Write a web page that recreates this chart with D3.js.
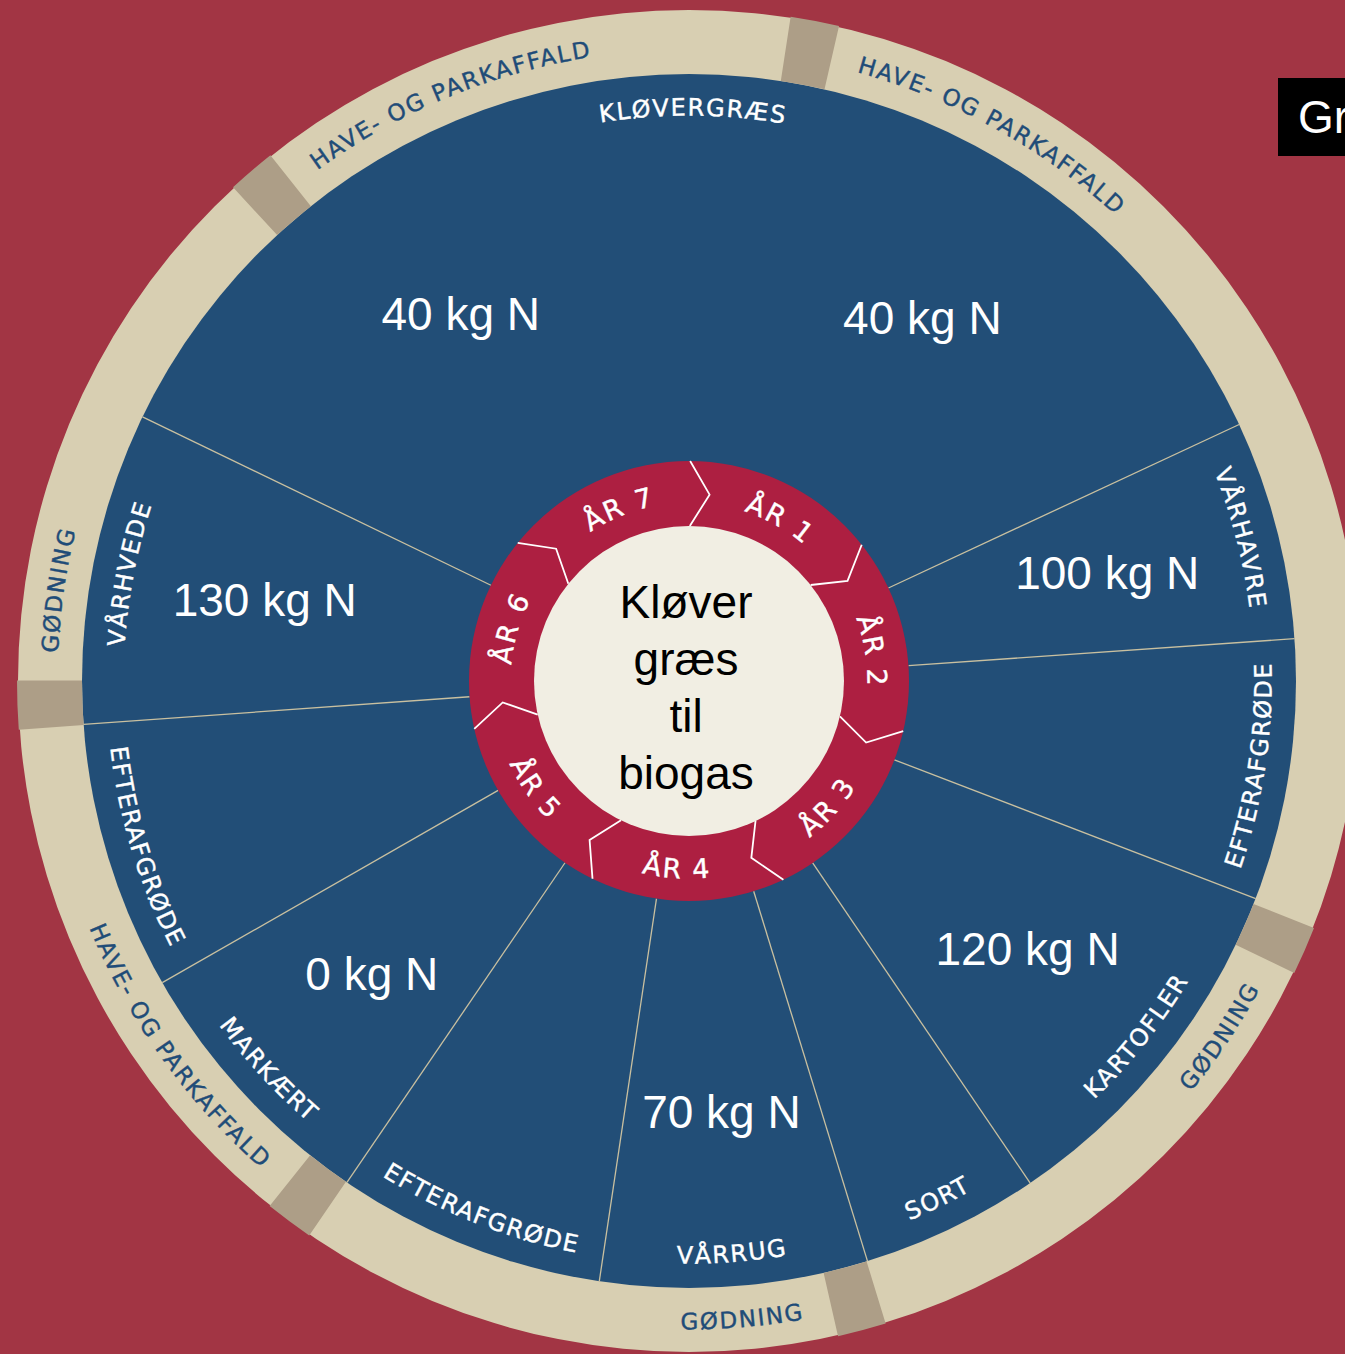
<!DOCTYPE html>
<html>
<head>
<meta charset="utf-8">
<script src="https://cdn.jsdelivr.net/npm/d3@7"></script>
<style>
  html, body { margin: 0; padding: 0; background: #a23544; overflow: hidden; }
  #tag {
    position: absolute; left: 1278px; top: 78px; width: 200px; height: 78px;
    background: #000; color: #fff; font: 46px "Liberation Sans", Arial, sans-serif;
    line-height: 78px; padding-left: 20px; white-space: nowrap;
  }
</style>
</head>
<body>
<svg id="chart"></svg>
<div id="tag">Gr</div>
<script>
const w = 1345;
const h = 1354;
const cx = 689;
const cy = 681;

// wheel data
const years = ['ÅR 1', 'ÅR 2', 'ÅR 3', 'ÅR 4', 'ÅR 5', 'ÅR 6', 'ÅR 7'];
const crops = ['KLØVERGRÆS', 'VÅRHAVRE', 'EFTERAFGRØDE', 'KARTOFLER', 'SORT', 'VÅRRUG',
	'EFTERAFGRØDE', 'MARKÆRT', 'EFTERAFGRØDE', 'VÅRHVEDE'];
const cropShare = [129.2, 21, 25, 34.8, 17.1, 25.6, 25.8, 25.9, 25.7, 29.9]; // degrees of the wheel
const nCrop = [0, 0, 1, 3, 5, 7, 9];
const nValue = [40, 40, 100, 120, 70, 0, 130];
const inputs = ['HAVE- OG PARKAFFALD', 'GØDNING', 'GØDNING', 'HAVE- OG PARKAFFALD', 'GØDNING', 'HAVE- OG PARKAFFALD'];
const inputYears = [2, 1, 1, 1, 1, 1];
const centerLines = ['Kløver', 'græs', 'til', 'biogas'];

const cropStart = 295.8;
const yearStart = 0.3;
const inputStart = 10.8;

const rCenter = 155;
const rYear = 220;
const rBlue = 607;
const rOuter = 671;

const rad = (d) => (d * Math.PI) / 180;
const polar = (r, a) => [r * Math.sin(rad(a)), -r * Math.cos(rad(a))];

const yearScale = d3.scaleLinear().domain([0, years.length]).range([yearStart, yearStart + 360]);
const inputScale = d3.scaleLinear().domain([0, years.length]).range([inputStart, inputStart + 360]);

const pie = d3.pie().sort(null).value((d) => d)
	.startAngle(rad(cropStart - 360)).endAngle(rad(cropStart));
const cropArcs = pie(cropShare).map((d) => ({
	a0: (d.startAngle * 180) / Math.PI,
	a1: (d.endAngle * 180) / Math.PI,
}));

let svg = d3.select('#chart').attr('width', w).attr('height', h);
let defs = svg.append('defs');
let g = svg.append('g').attr('transform', `translate(${cx},${cy})`);

// path along an arc, clockwise or counter-clockwise (degrees from 12 o'clock)
let pathId = 0;
const arcPath = (r, a0, a1, ccw) => {
	const p = d3.path();
	if (!ccw) p.arc(0, 0, r, rad(a0 - 90), rad(a1 - 90), false);
	else p.arc(0, 0, r, rad(a1 - 90), rad(a0 - 90), true);
	const id = 'tp' + pathId++;
	defs.append('path').attr('id', id).attr('d', p.toString());
	return id;
};
const isFlipped = (a) => {
	const m = ((a % 360) + 360) % 360;
	return m > 90 && m < 270;
};

// outer ring
g.append('path')
	.attr('d', d3.arc()({ innerRadius: rBlue - 1, outerRadius: rOuter, startAngle: 0, endAngle: 2 * Math.PI }))
	.attr('fill', '#d8cfb2');

// blue disc
g.append('circle').attr('r', rBlue).attr('fill', '#224e77');

// separators in outer ring
const inputBounds = [];
let acc = 0;
inputYears.forEach((n) => {
	inputBounds.push(inputScale(acc));
	acc += n;
});
g.selectAll('.sep')
	.data(inputBounds)
	.enter()
	.append('path')
	.attr('class', 'sep')
	.attr('d', (a) => d3.arc()({ innerRadius: rBlue, outerRadius: rOuter + 1, startAngle: rad(a - 2.1), endAngle: rad(a + 2.1) }))
	.attr('fill', '#ad9e87');

// crop boundary lines
g.selectAll('.cropline')
	.data(cropArcs)
	.enter()
	.append('line')
	.attr('class', 'cropline')
	.attr('x1', (d) => polar(rYear, d.a0)[0])
	.attr('y1', (d) => polar(rYear, d.a0)[1])
	.attr('x2', (d) => polar(rBlue, d.a0)[0])
	.attr('y2', (d) => polar(rBlue, d.a0)[1])
	.attr('stroke', '#c9c0a0')
	.attr('stroke-width', 1.3);

// year ring
g.append('circle').attr('r', rYear).attr('fill', '#ad1f41');
g.selectAll('.chev')
	.data(years)
	.enter()
	.append('path')
	.attr('class', 'chev')
	.attr('d', (d, i) => {
		const b = yearScale(i);
		return d3.line()([polar(rYear, b), polar((rYear + rCenter) / 2, b + 6), polar(rCenter, b)]);
	})
	.attr('fill', 'none')
	.attr('stroke', '#fff')
	.attr('stroke-width', 1.8);
g.append('circle').attr('r', rCenter).attr('fill', '#f1eee3');

// curved labels
const curvedText = (txt, a, rMid, half, opts) => {
	const flip = opts.flip;
	const span = 170;
	let id, offset, anchor;
	if (opts.align === 'middle') {
		id = flip ? arcPath(rMid + half, a - span / 2, a + span / 2, true) : arcPath(rMid - half, a - span / 2, a + span / 2, false);
		offset = '50%';
		anchor = 'middle';
	} else {
		id = flip ? arcPath(rMid + half, a, a + span, true) : arcPath(rMid - half, a, a + span, false);
		offset = flip ? '100%' : '0%';
		anchor = flip ? 'end' : 'start';
	}
	g.append('text')
		.attr('font-family', '"DejaVu Sans", sans-serif')
		.attr('font-size', opts.size)
		.attr('letter-spacing', opts.spacing)
		.attr('fill', opts.color)
		.attr('stroke', opts.color)
		.attr('stroke-width', 0.4)
		.append('textPath')
		.attr('href', '#' + id)
		.attr('startOffset', offset)
		.attr('text-anchor', anchor)
		.text(txt);
};

crops.forEach((c, i) => {
	const mid = (cropArcs[i].a0 + cropArcs[i].a1) / 2;
	curvedText(c, mid, 574, 8.6, { flip: isFlipped(mid), align: 'middle', size: 24, spacing: 1.6, color: '#ffffff' });
});

years.forEach((y, i) => {
	const mid = (yearScale(i) + yearScale(i + 1)) / 2 + 3.3;
	curvedText(y, mid, 188, 9.6, { flip: isFlipped(mid), align: 'middle', size: 27, spacing: 2, color: '#ffffff' });
});

inputs.forEach((t, i) => {
	const a = inputBounds[i] + 4.6;
	curvedText(t, a, 640, 8.4, { flip: isFlipped(a + 16), align: 'start', size: 23, spacing: 1.8, color: '#1f4c78' });
});

// nitrogen labels
g.selectAll('.kgn')
	.data(nValue)
	.enter()
	.append('text')
	.attr('class', 'kgn')
	.each(function (v, i) {
		const c = nCrop[i];
		const same = nCrop.filter((k) => k === c).length;
		const j = nCrop.slice(0, i).filter((k) => k === c).length;
		const arc = cropArcs[c];
		const a = arc.a0 + ((j + 0.5) * (arc.a1 - arc.a0)) / same;
		const [x, y] = polar(432, a);
		d3.select(this).attr('x', x).attr('y', y);
	})
	.attr('dy', '0.35em')
	.attr('text-anchor', 'middle')
	.attr('font-family', '"Liberation Sans", Arial, sans-serif')
	.attr('font-size', 46)
	.attr('fill', '#fff')
	.text((v) => v + ' kg N');

// centre text
g.selectAll('.ctr')
	.data(centerLines)
	.enter()
	.append('text')
	.attr('class', 'ctr')
	.attr('x', -3)
	.attr('y', (d, i) => (i - 1.5) * 57 + 22)
	.attr('text-anchor', 'middle')
	.attr('font-family', '"Liberation Sans", Arial, sans-serif')
	.attr('font-size', 46)
	.attr('fill', '#000')
	.text((d) => d);
</script>
</body>
</html>
